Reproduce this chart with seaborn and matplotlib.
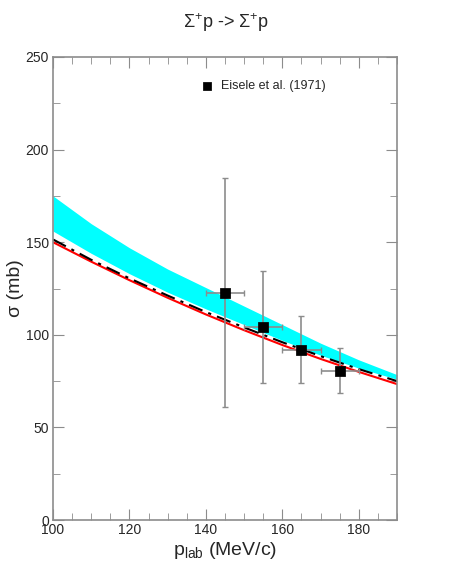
#!/usr/bin/env python3
# plot: Sigma+ p elastic cross section

import pandas as pd
import matplotlib
matplotlib.use('Agg')
import matplotlib.pyplot as plt
from matplotlib.ticker import MultipleLocator
import seaborn as sns

# Data =========================================================================

p_lab = [100, 110, 120, 130, 140, 150, 160, 170, 180, 190]
band_upper = [175, 160, 147, 135.5, 125.5, 115.5, 105.5, 95.5, 86.5, 78.5]
band_lower = [156, 144, 133, 123, 114, 105.5, 97, 89, 82, 76]
red_curve = [150, 139.5, 129.5, 120, 111, 102.5, 94.5, 87, 80, 73.4]
black_curve = [151.5, 140.5, 130.5, 121.2, 112.3, 104, 96, 88.5, 81.5, 75]

exp_p = [145, 155, 165, 175]
exp_sigma = [122.6, 104.2, 91.8, 80.5]
exp_xerr = [5, 5, 5, 5]
exp_err_lo = [61.6, 30.2, 17.8, 11.9]
exp_err_hi = [62.1, 30.2, 18.2, 12.5]

# Plot =========================================================================

sns.set_style('ticks')
plt.rcParams['font.family'] = ['Liberation Sans', 'DejaVu Sans']
plt.rcParams['mathtext.fontset'] = 'custom'
plt.rcParams['mathtext.rm'] = 'Liberation Sans'
plt.rcParams['mathtext.it'] = 'Liberation Sans:italic'

grey = '#8c8c8c'

fig = plt.figure(figsize=(4.54, 5.87), dpi=100)
ax = fig.add_axes([0.1167, 0.1141, 0.7577, 0.7888])

ax.fill_between(p_lab, band_lower, band_upper, color='cyan', lw=0)

curves = pd.DataFrame({'p': p_lab, 'red': red_curve, 'black': black_curve})
sns.lineplot(data=curves, x='p', y='red', color='red', lw=1.5, ax=ax)
sns.lineplot(data=curves, x='p', y='black', color='black', lw=1.5,
             ax=ax, linestyle=(0, (7, 3, 1.5, 3)))

ax.errorbar(exp_p, exp_sigma, xerr=exp_xerr, yerr=[exp_err_lo, exp_err_hi],
            fmt='none', ecolor=grey, elinewidth=1.2, capsize=2.5, capthick=1)
sns.scatterplot(x=exp_p, y=exp_sigma, marker='s', s=45, color='black',
                edgecolor='black', ax=ax, label='Eisele et al. (1971)', zorder=5)

ax.set_xlim(100, 190)
ax.set_ylim(0, 250)
ax.xaxis.set_major_locator(MultipleLocator(20))
ax.xaxis.set_minor_locator(MultipleLocator(5))
ax.yaxis.set_major_locator(MultipleLocator(50))
ax.yaxis.set_minor_locator(MultipleLocator(25))
ax.tick_params(which='both', direction='in', color=grey,
               top=True, right=True)
ax.tick_params(which='major', length=8, labelsize=10, pad=3)
ax.tick_params(which='minor', length=5)
ax.tick_params(axis='x', which='major', pad=2)
for s in ax.spines.values():
    s.set_color(grey)
    s.set_linewidth(1.2)

ax.set_xlabel(r'p$_{\mathrm{lab}}$ (MeV/c)', fontsize=14, labelpad=2)
ax.set_ylabel('σ (mb)', fontsize=14)
ax.yaxis.set_label_coords(-0.085, 0.5)
fig.text(0.497, 0.962, r'$\Sigma^{+}$p -> $\Sigma^{+}$p', ha='center',
         va='center', fontsize=13)

ax.legend(loc='upper left', bbox_to_anchor=(0.38, 0.975), frameon=False,
          fontsize=9, handletextpad=0.1, markerscale=0.8)

fig.savefig('out.png', dpi=100)
